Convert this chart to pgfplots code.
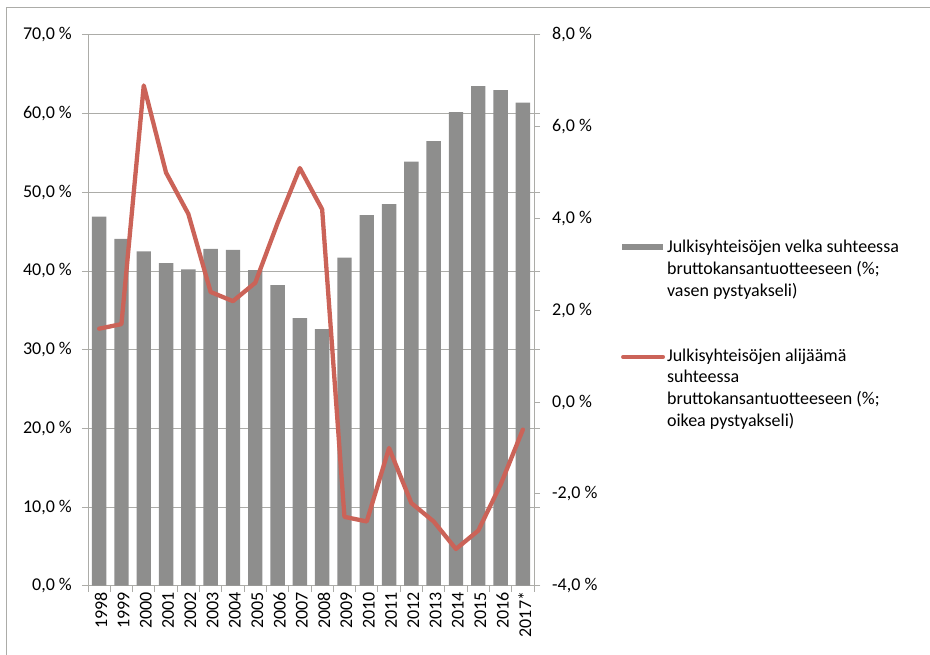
\documentclass[border=0pt]{standalone}
\usepackage{pgfplots}
\pgfplotsset{compat=1.18}
\usepackage{fontspec}
\setmainfont{Carlito}
\definecolor{barcol}{RGB}{142,142,141}
\definecolor{linecol}{RGB}{203,99,88}
\definecolor{gridcol}{RGB}{172,172,168}
\pgfplotstableread{
idx debt deficit
0  46.9  1.6
1  44.1  1.7
2  42.5  6.9
3  41.0  5.0
4  40.2  4.1
5  42.8  2.4
6  42.7  2.2
7  40.1  2.6
8  38.2  3.9
9  34.0  5.1
10 32.6  4.2
11 41.7 -2.5
12 47.1 -2.6
13 48.5 -1.0
14 53.9 -2.2
15 56.5 -2.6
16 60.2 -3.2
17 63.5 -2.8
18 63.0 -1.8
19 61.4 -0.6
}\datatable
\begin{document}
\fontsize{18}{21.7}\selectfont
\begin{tikzpicture}[x=1pt,y=1pt]
\useasboundingbox (0,0) rectangle (930,655);
\draw[gridcol, line width=1pt] (6.7,0) -- (6.7,647.5) -- (930,647.5);
\begin{axis}[
  at={(88pt,69.3pt)}, anchor=south west,
  scale only axis, width=446pt, height=550.7pt,
  xmin=-0.5, xmax=19.5, ymin=0, ymax=70,
  axis line style={gridcol, line width=1pt},
  ymajorgrids, grid style={gridcol, line width=1pt},
  tick align=outside, major tick length=6pt,
  every tick/.style={gridcol, line width=1pt},
  ytick={0,10,...,70},
  ytick pos=both, yticklabel pos=left,
  yticklabels={{0,0 \%},{10,0 \%},{20,0 \%},{30,0 \%},{40,0 \%},{50,0 \%},{60,0 \%},{70,0 \%}},
  yticklabel style={font=\fontsize{18}{21.7}\selectfont, anchor=east, inner sep=0pt, xshift=-10pt},
  xtick={-0.5,0.5,...,19.5}, xticklabels={},
  xtick pos=bottom,
  extra x ticks={0,1,...,19},
  extra x tick labels={1998,1999,2000,2001,2002,2003,2004,2005,2006,2007,2008,2009,2010,2011,2012,2013,2014,2015,2016,2017*},
  extra x tick style={tick style={draw=none}, xticklabel style={font=\fontsize{18}{21.7}\selectfont, rotate=90, anchor=east, inner sep=0pt, yshift=-2pt}},
]
\addplot[ybar, bar width=14.4pt, fill=barcol, draw=none] table[x=idx, y=debt] {\datatable};
\end{axis}
\begin{axis}[
  at={(88pt,69.3pt)}, anchor=south west,
  scale only axis, width=446pt, height=550.7pt,
  xmin=-0.5, xmax=19.5, ymin=-4, ymax=8,
  axis x line=none, axis y line*=right,
  axis line style={gridcol, line width=1pt, -},
  tick align=outside, major tick length=6pt,
  every tick/.style={gridcol, line width=1pt},
  ytick={-4,-2,...,8},
  yticklabels={{-4,0 \%},{-2,0 \%},{0,0 \%},{2,0 \%},{4,0 \%},{6,0 \%},{8,0 \%}},
  yticklabel style={font=\fontsize{18}{21.7}\selectfont, anchor=west, inner sep=0pt, xshift=12pt},
  legend cell align=left,
  legend style={draw=none, fill=none, at={(1.188,0.635)}, anchor=north west,
    font=\fontsize{18}{21.7}\selectfont, row sep=46pt,
    nodes={align=left}},
]
\addlegendimage{legend image code/.code={\fill[barcol] (0pt,20.2pt) rectangle (40pt,25.2pt);}}
\addlegendentry{Julkisyhteisöjen velka suhteessa\\bruttokansantuotteeseen (\%;\\vasen pystyakseli)}
\addplot[linecol, line width=4.3pt, line join=round, line cap=round,
  legend image code/.code={\draw[linecol, line width=4pt, line cap=round] (1pt,32pt) -- (41pt,32pt);}] table[x=idx, y=deficit] {\datatable};
\addlegendentry{Julkisyhteisöjen alijäämä\\suhteessa\\bruttokansantuotteeseen (\%;\\oikea pystyakseli)}
\end{axis}
\end{tikzpicture}
\end{document}
